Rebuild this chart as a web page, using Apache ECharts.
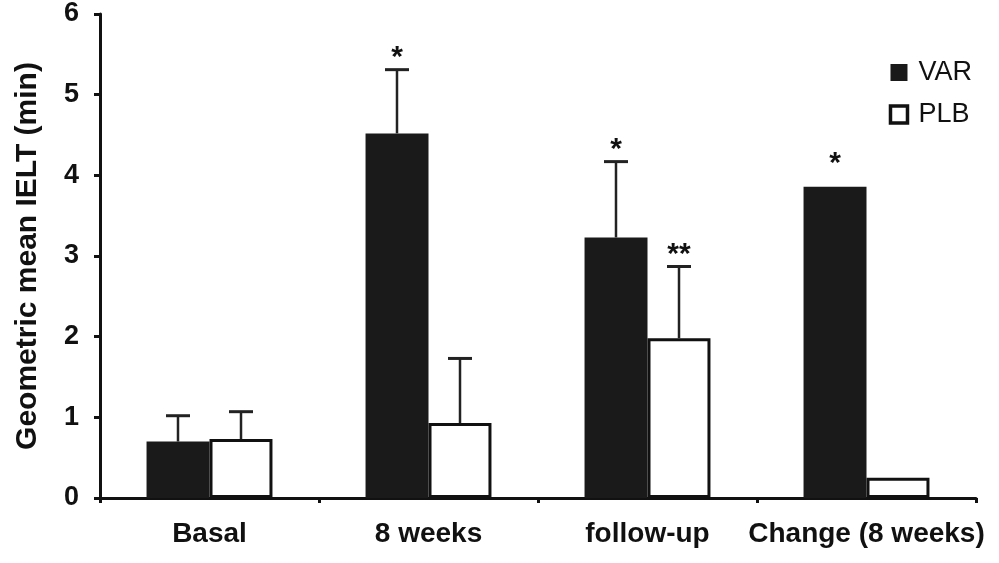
<!DOCTYPE html>
<html><head><meta charset="utf-8">
<script src="https://cdn.jsdelivr.net/npm/echarts@6/dist/echarts.min.js"></script>
<style>html,body{margin:0;padding:0;background:#fff}#c{width:999px;height:563px}</style>
</head><body><div id="c"></div>
<script>
const categories = ['Basal', '8 weeks', 'follow-up', 'Change (8 weeks)'];
const varValues = [0.70, 4.52, 3.23, 3.86];
const plbValues = [0.73, 0.93, 1.98, 0.25];
const varErrTop = [1.02, 5.31, 4.17, null];
const plbErrTop = [1.07, 1.73, 2.87, null];
const varSig = ['', '*', '*', '*'];
const plbSig = ['', '', '**', ''];
const yTicks = [0, 1, 2, 3, 4, 5, 6];

const FONT = 'Liberation Sans, Arial, Helvetica, sans-serif';
const BAND_FRAC = 0.2877;

function errRender(values, tops, sigs, side) {
  return function (params, api) {
    const i = api.value(0);
    const c0 = api.coord([i, 0]);
    const band = api.size([1, 0])[0];
    const x = c0[0] + side * band * BAND_FRAC / 2;
    const children = [];
    const v = values[i];
    const t = tops[i];
    let topY = api.coord([i, v])[1];
    let off = 32;
    if (t != null) {
      const ty = api.coord([i, t])[1];
      children.push({type: 'line', shape: {x1: x, y1: topY, x2: x, y2: ty}, style: {stroke: '#222', lineWidth: 2.5}});
      children.push({type: 'line', shape: {x1: x - 12, y1: ty, x2: x + 12, y2: ty}, style: {stroke: '#222', lineWidth: 3}});
      topY = ty;
      off = 21;
    }
    if (sigs[i]) {
      children.push({type: 'text', style: {text: sigs[i], x: x, y: topY - off + 9, align: 'center', verticalAlign: 'middle', font: 'bold 30px ' + FONT, fill: '#111'}});
    }
    return {type: 'group', children: children};
  };
}

const chart = echarts.init(document.getElementById('c'), null, {renderer: 'canvas'});
chart.setOption({
  animation: false,
  backgroundColor: '#fff',
  grid: {left: 100, right: 23, top: 14, bottom: 65},
  legend: {
    orient: 'vertical', right: 22, top: 54, itemWidth: 17, itemHeight: 17, itemGap: 15,
    textStyle: {fontFamily: FONT, fontSize: 27, color: '#111', padding: [0, 0, 0, 6]},
    data: [
      {name: 'VAR', icon: 'rect', itemStyle: {color: '#1a1a1a', borderWidth: 0}},
      {name: 'PLB', icon: 'rect', itemStyle: {color: '#fff', borderColor: '#111', borderWidth: 3.5}}
    ]
  },
  xAxis: {
    type: 'category', data: categories,
    axisLine: {lineStyle: {color: '#111', width: 3}},
    axisTick: {show: true, length: 5, lineStyle: {width: 3, color: '#111'}},
    axisLabel: {interval: 0, fontFamily: FONT, fontWeight: 'bold', fontSize: 28, color: '#111', margin: 22}
  },
  yAxis: {
    type: 'value', min: 0, max: 6, interval: 1,
    name: 'Geometric mean IELT (min)', nameLocation: 'middle', nameGap: 57, nameRotate: 90,
    nameTextStyle: {fontFamily: FONT, fontWeight: 'bold', fontSize: 30, color: '#111'},
    axisLine: {show: true, lineStyle: {color: '#111', width: 3}},
    axisTick: {show: true, length: 6, lineStyle: {width: 3, color: '#111'}},
    splitLine: {show: false},
    axisLabel: {fontFamily: FONT, fontWeight: 'bold', fontSize: 27, color: '#111', margin: 21,
      formatter: function (v) { return yTicks.indexOf(v) >= 0 ? String(v) : ''; }}
  },
  series: [
    {name: 'VAR', type: 'bar', data: varValues, barGap: '0%', barCategoryGap: '42.5%',
      itemStyle: {color: '#1a1a1a'}},
    {name: 'PLB', type: 'bar', data: plbValues, barGap: '0%', barCategoryGap: '42.5%',
      itemStyle: {color: '#fff', borderColor: '#111', borderWidth: 3}},
    {type: 'custom', data: categories.map((c, i) => [i]), renderItem: errRender(varValues, varErrTop, varSig, -1), z: 5, silent: true},
    {type: 'custom', data: categories.map((c, i) => [i]), renderItem: errRender(plbValues, plbErrTop, plbSig, 1), z: 5, silent: true}
  ]
});
</script></body></html>
